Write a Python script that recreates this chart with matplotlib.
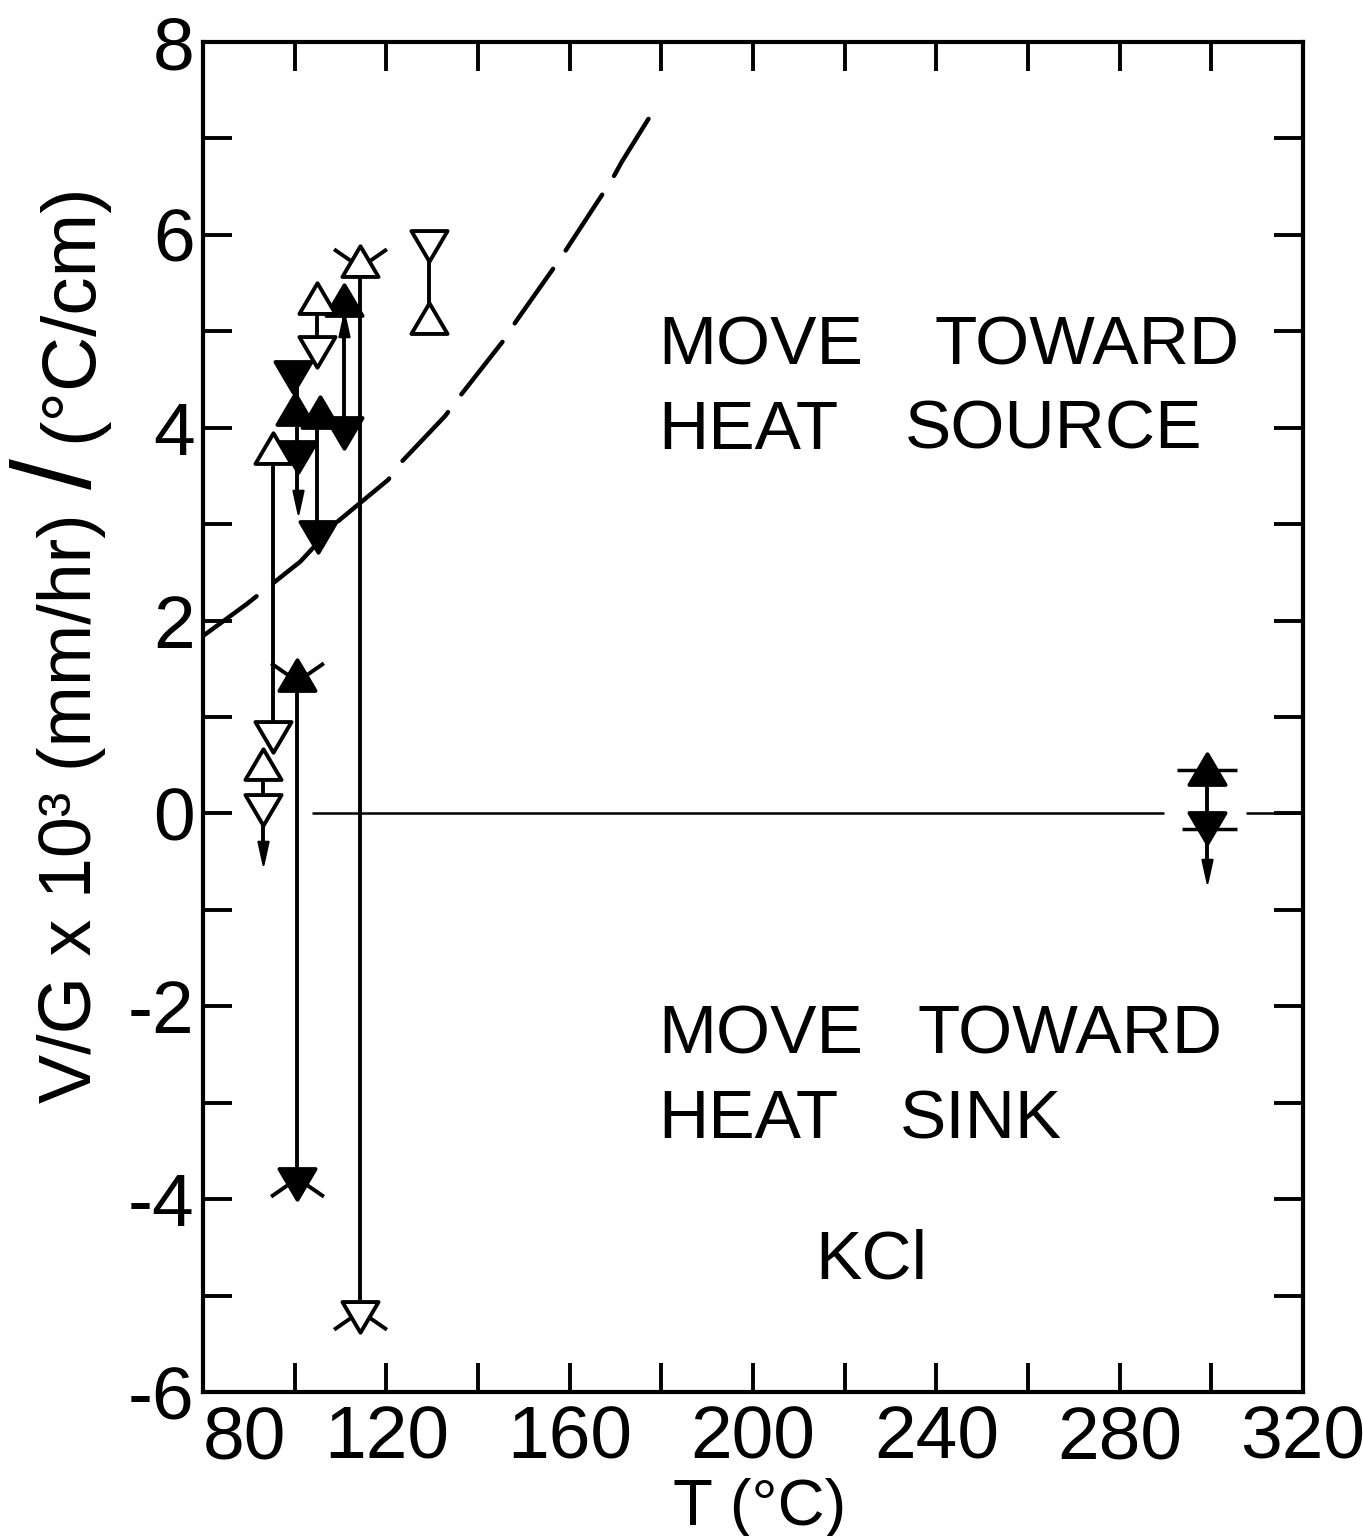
import matplotlib
matplotlib.use("Agg")
import matplotlib.pyplot as plt
from matplotlib.path import Path
import numpy as np

plt.rcParams['axes.unicode_minus'] = False
TICK_FONT = ['Liberation Sans', 'DejaVu Sans']
TEXT_FONT = ['Liberation Sans', 'DejaVu Sans']

# --- data (T in degC, V/G x 10^3) ---
# vertical connectors between paired measurements
seg_T = [93.1, 95.3, 100.5, 100.6, 104.9, 104.9, 110.8, 114.3, 129.2, 299.0]
seg_lo = [-0.38, 0.80, -3.83, 3.26, 4.80, 2.88, 3.96, -5.21, 5.13, -0.57]
seg_hi = [0.50, 3.78, 1.43, 4.54, 5.34, 4.15, 5.31, 5.72, 5.89, 0.45]

open_up_T = [93.1, 95.3, 104.9, 114.3, 129.2]
open_up_V = [0.50, 3.78, 5.34, 5.72, 5.13]
open_dn_T = [93.1, 95.3, 104.9, 114.3, 129.2]
open_dn_V = [0.05, 0.80, 4.80, -5.21, 5.89]
fill_up_T = [100.5, 100.0, 105.5, 110.8, 299.0]
fill_up_V = [1.43, 4.18, 4.15, 5.31, 0.45]
fill_dn_T = [100.5, 99.7, 100.7, 105.0, 110.8, 299.0]
fill_dn_V = [-3.83, 4.54, 3.71, 2.88, 3.96, -0.14]

arrow_dn_T = [93.1, 100.7, 299.0]
arrow_dn_V = [-0.38, 3.26, -0.57]
arrow_up_T = [110.8]
arrow_up_V = [5.03]

wing_up_T = [100.5, 114.3]
wing_up_V = [1.43, 5.72]
wing_dn_T = [100.5, 114.3]
wing_dn_V = [-3.83, -5.21]

# horizontal bars
bar_V = [0.45, -0.16, 4.06]
bar_lo = [292.5, 293.5, 97.8]
bar_hi = [305.5, 305.5, 114.3]
bar_w = [2.5, 2.5, 6.0]

# dashed boundary curve
curve_T = [80.0, 89.5, 101.2, 109.2, 120.4, 123.0, 132.8, 136.1, 145.5,
           148.4, 158.2, 160.8, 169.2, 171.4, 178.6]
curve_V = [1.84, 2.17, 2.61, 3.02, 3.46, 3.63, 4.12, 4.33, 4.90,
           5.11, 5.77, 5.96, 6.57, 6.76, 7.31]

# zero line pieces
zero_lo = [103.8, 307.5]
zero_hi = [289.6, 320.0]

x_ticks = [80, 100, 120, 140, 160, 180, 200, 220, 240, 260, 280, 300, 320]
x_labels = ['80', '', '120', '', '160', '', '200', '', '240', '', '280', '', '320']
y_ticks = list(range(-6, 9))
y_labels = [str(v) if v % 2 == 0 else '' for v in y_ticks]

# marker shapes
tri_up = Path([(0, 0.9), (-1, -0.8), (1, -0.8), (0, 0.9)],
              [Path.MOVETO, Path.LINETO, Path.LINETO, Path.CLOSEPOLY])
tri_dn = Path([(0, -0.9), (-1, 0.8), (1, 0.8), (0, -0.9)],
              [Path.MOVETO, Path.LINETO, Path.LINETO, Path.CLOSEPOLY])
arr_dn = Path([(-0.35, 0.6), (0.35, 0.6), (0, -1), (-0.35, 0.6)],
              [Path.MOVETO, Path.LINETO, Path.LINETO, Path.CLOSEPOLY])
arr_up = Path([(-0.35, -0.6), (0.35, -0.6), (0, 1), (-0.35, -0.6)],
              [Path.MOVETO, Path.LINETO, Path.LINETO, Path.CLOSEPOLY])
wing_up = Path([(-1, 0.5), (-0.35, 0.05), (0.35, 0.05), (1, 0.5)],
               [Path.MOVETO, Path.LINETO, Path.MOVETO, Path.LINETO])
wing_dn = Path([(-1, -0.5), (-0.35, -0.05), (0.35, -0.05), (1, -0.5)],
               [Path.MOVETO, Path.LINETO, Path.MOVETO, Path.LINETO])

fig = plt.figure(figsize=(13.63, 15.36), dpi=100)
ax = fig.add_axes([203 / 1363, 1 - 1392 / 1536, 1100 / 1363, 1350 / 1536])

# connectors and bars
ax.vlines(seg_T, seg_lo, seg_hi, colors='black', lw=2.8, zorder=2)
for v, a, b, w in zip(bar_V, bar_lo, bar_hi, bar_w):
    ax.hlines(v, a, b, colors='black', lw=w, zorder=2)
ax.hlines([0, 0], zero_lo, zero_hi, colors='black', lw=1.8, zorder=1)

# dashed curve
ax.plot(curve_T, curve_V, color='black', lw=3.2, ls=(0, (15, 5)),
        dash_capstyle='round', zorder=2)

ms, mew = 26, 2.8
ax.plot(fill_up_T, fill_up_V, ls='none', marker=tri_up, ms=ms, mfc='black',
        mec='black', mew=mew, zorder=3)
ax.plot(fill_dn_T, fill_dn_V, ls='none', marker=tri_dn, ms=ms, mfc='black',
        mec='black', mew=mew, zorder=3)
ax.plot(open_up_T, open_up_V, ls='none', marker=tri_up, ms=ms, mfc='white',
        mec='black', mew=mew, zorder=4)
ax.plot(open_dn_T, open_dn_V, ls='none', marker=tri_dn, ms=ms, mfc='white',
        mec='black', mew=mew, zorder=4)
ax.plot(arrow_dn_T, arrow_dn_V, ls='none', marker=arr_dn, ms=21, mfc='black',
        mec='black', mew=1.5, zorder=3)
ax.plot(arrow_up_T, arrow_up_V, ls='none', marker=arr_up, ms=21, mfc='black',
        mec='black', mew=1.5, zorder=3)
ax.plot(wing_up_T, wing_up_V, ls='none', marker=wing_up, ms=38, mfc='none',
        mec='black', mew=2.8, zorder=5)
ax.plot(wing_dn_T, wing_dn_V, ls='none', marker=wing_dn, ms=38, mfc='none',
        mec='black', mew=2.8, zorder=5)

ax.set_xlim(80, 320)
ax.set_ylim(-6, 8)
ax.set_xticks(x_ticks)
ax.set_xticklabels(x_labels, family=TICK_FONT, fontsize=54)
ax.get_xticklabels()[0].set_ha('left')
ax.set_yticks(y_ticks)
ax.set_yticklabels(y_labels, family=TICK_FONT, fontsize=54)
ax.tick_params(axis='both', direction='in', length=21, width=2.8,
               top=True, right=True)
ax.tick_params(axis='x', pad=9)
ax.tick_params(axis='y', pad=6)
for sp in ax.spines.values():
    sp.set_linewidth(3.0)

# region annotations, word by word as in the hand lettering
tkw = dict(family=TEXT_FONT, fontsize=50, ha='left', va='baseline')
ax.text(179.3, 4.66, 'MOVE', **tkw)
ax.text(239.7, 4.66, 'TOWARD', **tkw)
ax.text(179.3, 3.78, 'HEAT', **tkw)
ax.text(233.2, 3.78, 'SOURCE', **tkw)
ax.text(179.3, -2.49, 'MOVE', **tkw)
ax.text(236.0, -2.49, 'TOWARD', **tkw)
ax.text(179.3, -3.37, 'HEAT', **tkw)
ax.text(232.0, -3.37, 'SINK', **tkw)
ax.text(213.5, -4.82, 'KCl', **tkw)

# axis labels
ax.text(0.506, -(1525 - 1392) / 1350, 'T (°C)', transform=ax.transAxes,
        ha='center', va='baseline', family=TICK_FONT, fontsize=47)
fig.text(72 / 1363, 1 - 808 / 1536, 'V/G x 10³ (mm/hr)', rotation=90,
         ha='center', va='center', family=TEXT_FONT, fontsize=53)
fig.text(62 / 1363, 1 - 474 / 1536, '/', rotation=90,
         ha='center', va='center', family=TEXT_FONT, fontsize=80)
fig.text(72 / 1363, 1 - 312 / 1536, '(°C/cm)', rotation=90,
         ha='center', va='center', family=TEXT_FONT, fontsize=55)

fig.savefig('out.png', dpi=100, facecolor='white')
